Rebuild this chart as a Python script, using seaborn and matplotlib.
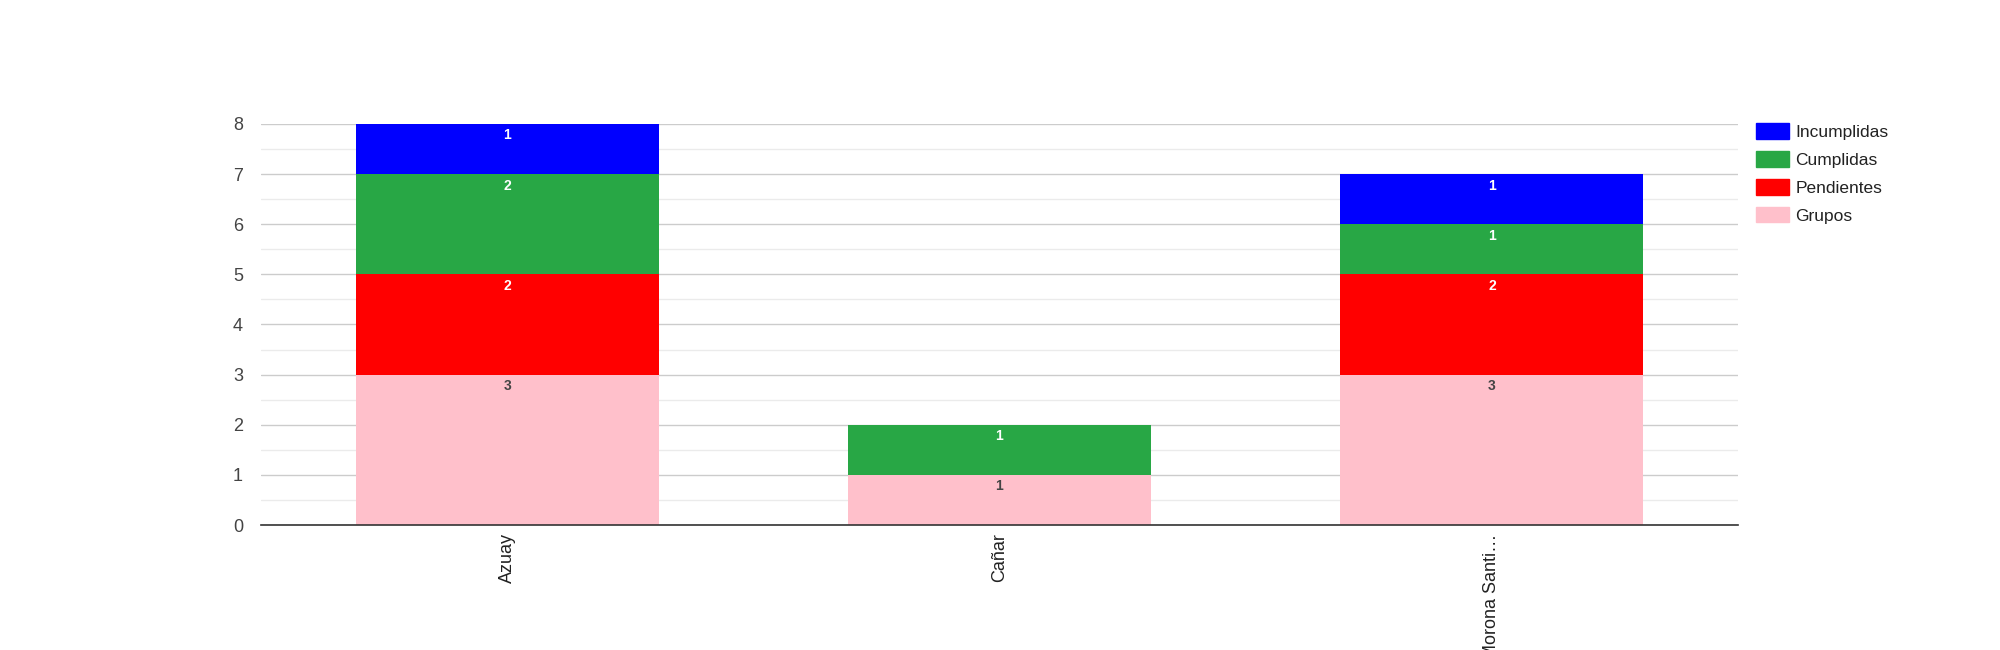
import matplotlib
matplotlib.use('Agg')
import matplotlib.pyplot as plt
import matplotlib.patches as mpatches
import numpy as np
import pandas as pd
import seaborn as sns


# Data
provincias = ['Azuay', 'Cañar', 'Morona Santi…']
grupos = [3, 1, 3]
pendientes = [2, 0, 2]
cumplidas = [2, 1, 1]
incumplidas = [1, 0, 1]

series_names = ['Grupos', 'Pendientes', 'Cumplidas', 'Incumplidas']
series_colors = ['#ffc0cb', '#ff0000', '#28a745', '#0000ff']
label_colors = ['#444444', '#ffffff', '#ffffff', '#ffffff']


def stacked_bars(out_file='out.png'):
    sns.set_theme(style='white')
    plt.rcParams['font.family'] = ['Liberation Sans', 'DejaVu Sans']

    df = pd.DataFrame({
        'Provincia': provincias,
        'Grupos': grupos,
        'Pendientes': pendientes,
        'Cumplidas': cumplidas,
        'Incumplidas': incumplidas,
    })

    fig = plt.figure(figsize=(20, 6.5), dpi=100)
    ax = fig.add_axes([0.1305, 0.1923, 0.7385, 0.6170])

    # cumulative tops, drawn from tallest layer down so each layer covers the one above
    tops = df[series_names].cumsum(axis=1)
    for name, color in reversed(list(zip(series_names, series_colors))):
        sns.barplot(x=df['Provincia'], y=tops[name], color=color, width=0.615,
                    saturation=1, ax=ax, linewidth=0)

    # segment labels near the top of each segment
    for i in range(len(df)):
        for name, tcolor in zip(series_names, label_colors):
            val = df.loc[i, name]
            if val <= 0:
                continue
            ax.text(i, tops.loc[i, name] - 0.09, str(val), ha='center', va='top',
                    fontsize=10, fontweight='bold', color=tcolor)

    ax.set_xlim(-0.5, 2.5)
    ax.set_ylim(0, 8)
    ax.set_yticks(np.arange(0, 9, 1))
    ax.set_yticks(np.arange(0.5, 8, 1), minor=True)
    ax.grid(axis='y', which='major', color='#cccccc', linewidth=1)
    ax.grid(axis='y', which='minor', color='#ebebeb', linewidth=1)
    ax.set_axisbelow(True)
    ax.tick_params(axis='y', which='both', length=0, pad=13, labelsize=13, labelcolor='#444444')
    ax.tick_params(axis='x', length=0, pad=6, labelsize=13, labelcolor='#222222')
    plt.setp(ax.get_xticklabels(), rotation=90, va='top', ha='center')
    ax.set_xlabel('')
    ax.set_ylabel('')
    sns.despine(ax=ax, left=True, top=True, right=True)
    ax.spines['bottom'].set_color('#333333')
    ax.spines['bottom'].set_linewidth(1.2)

    handles = [mpatches.Patch(color=c, label=n)
               for n, c in reversed(list(zip(series_names, series_colors)))]
    ax.legend(handles=handles, loc='upper left', bbox_to_anchor=(1.003, 1.036),
              frameon=False, fontsize=12.5, handlelength=1.9, handleheight=1.0,
              labelspacing=0.64, handletextpad=0.35, borderaxespad=0.4,
              labelcolor='#222222')

    fig.savefig(out_file, dpi=100)


if __name__ == '__main__':
    stacked_bars()
